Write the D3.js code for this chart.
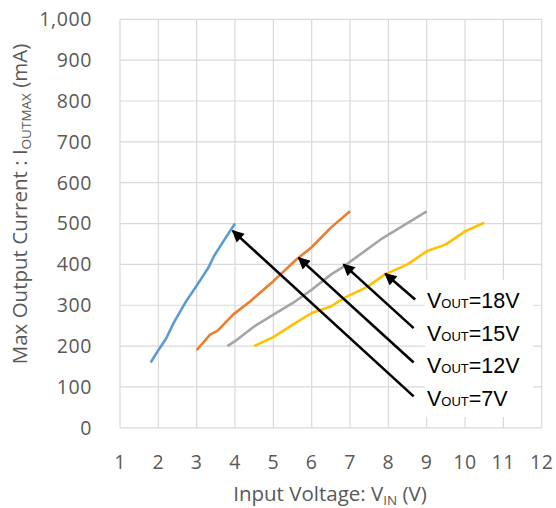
<!DOCTYPE html>
<html>
<head>
<meta charset="utf-8">
<script src="https://cdn.jsdelivr.net/npm/d3@7"></script>
<style>
  body { margin: 0; background: #fff; }
  .axis-text { font-family: "Open Sans", sans-serif; }
  .note { font-family: "Liberation Sans", Arial, sans-serif; }
</style>
</head>
<body>
<svg id="chart" width="556" height="508"></svg>
<script>
// series (x = input voltage V, y = mA)
const blueX = [1.8, 2.0, 2.2, 2.4, 2.7, 3.0, 3.3, 3.45, 3.7, 4.0];
const blueY = [160, 190, 218, 257, 306, 348, 391, 420, 457, 500];
const orangeX = [3.0, 3.35, 3.55, 3.95, 4.4, 5.0, 5.6, 6.0, 6.5, 7.0];
const orangeY = [190, 228, 238, 277, 310, 359, 412, 442, 490, 530];
const grayX = [3.8, 4.0, 4.5, 5.0, 5.5, 6.0, 6.5, 6.85, 7.8, 9.0];
const grayY = [200, 212, 248, 277, 305, 338, 375, 396, 461, 530];
const yellowX = [4.5, 5.0, 5.5, 6.0, 6.5, 6.85, 7.45, 7.9, 8.5, 9.0, 9.5, 10.0, 10.5];
const yellowY = [200, 222, 252, 281, 297, 318, 345, 375, 400, 432, 449, 481, 502];

const xTicks = d3.range(1, 13);
const yTicks = d3.range(0, 1001, 100);

// annotation labels and arrow ends (data coordinates)
const labels = ["18V", "15V", "12V", "7V"];
const arrowTail = [[8.7, 314], [8.66, 244], [8.66, 160], [8.66, 77]];
const arrowTip = [[7.92, 377], [6.83, 400], [5.66, 416], [3.94, 482]];

const svg = d3.select("#chart");
const plotL = 120, plotR = 541.7, plotT = 19.3, plotB = 427.8;

const x = d3.scaleLinear().domain([1, 12]).range([plotL, plotR]);
const y = d3.scaleLinear().domain([0, 1000]).range([plotB, plotT]);

// grid
svg.append("g").selectAll("line").data(yTicks).join("line")
  .attr("x1", plotL).attr("x2", plotR)
  .attr("y1", d => y(d)).attr("y2", d => y(d))
  .attr("stroke", "#d9d9d9").attr("stroke-width", 1.2);
svg.append("g").selectAll("line").data(xTicks).join("line")
  .attr("x1", d => x(d)).attr("x2", d => x(d))
  .attr("y1", plotT).attr("y2", plotB)
  .attr("stroke", "#d9d9d9").attr("stroke-width", 1.2);

// white box behind the labels
svg.append("rect")
  .attr("x", 425).attr("y", 280).attr("width", 108).attr("height", 137)
  .attr("fill", "#fff");

// tick labels
svg.append("g").selectAll("text").data(yTicks).join("text")
  .attr("class", "axis-text")
  .attr("x", 92).attr("y", d => y(d)).attr("dy", "0.35em")
  .attr("text-anchor", "end").attr("font-size", 19.5).attr("letter-spacing", 0.6)
  .attr("fill", "#595959")
  .text(d => d3.format(",")(d));
svg.append("g").selectAll("text").data(xTicks).join("text")
  .attr("class", "axis-text")
  .attr("x", d => x(d)).attr("y", 469)
  .attr("text-anchor", "middle").attr("font-size", 19.5).attr("letter-spacing", 0.6)
  .attr("fill", "#595959")
  .text(d => d);

// axis titles
const xt = svg.append("text").attr("class", "axis-text")
  .attr("x", 330).attr("y", 501)
  .attr("text-anchor", "middle").attr("font-size", 20.5).attr("fill", "#595959");
xt.append("tspan").text("Input Voltage: V");
xt.append("tspan").attr("font-size", 13.5).attr("dy", 4).text("IN");
xt.append("tspan").attr("dy", -4).text(" (V)");

const yt = svg.append("text").attr("class", "axis-text")
  .attr("transform", "translate(27,204) rotate(-90)")
  .attr("text-anchor", "middle").attr("font-size", 20.5).attr("fill", "#595959");
yt.append("tspan").text("Max Output Current : I");
yt.append("tspan").attr("font-size", 13.5).attr("dy", 4).text("OUTMAX");
yt.append("tspan").attr("dy", -4).text(" (mA)");

// series
const series = [
  { xs: blueX, ys: blueY, color: "#5b9bd5" },
  { xs: orangeX, ys: orangeY, color: "#ed7d31" },
  { xs: grayX, ys: grayY, color: "#a5a5a5" },
  { xs: yellowX, ys: yellowY, color: "#ffc000" }
];
const line = d3.line().x(d => x(d[0])).y(d => y(d[1]));
series.forEach(s => {
  svg.append("path")
    .datum(d3.zip(s.xs, s.ys))
    .attr("d", line)
    .attr("fill", "none")
    .attr("stroke", s.color)
    .attr("stroke-width", 2.6)
    .attr("stroke-linejoin", "round");
});

// arrows
svg.append("defs").append("marker")
  .attr("id", "head").attr("markerUnits", "userSpaceOnUse")
  .attr("viewBox", "0 0 10 10").attr("refX", 9).attr("refY", 5)
  .attr("markerWidth", 14).attr("markerHeight", 12).attr("orient", "auto")
  .append("path").attr("d", "M0,0 L10,5 L0,10 z").attr("fill", "#000");

svg.append("g").selectAll("line").data(d3.range(arrowTail.length)).join("line")
  .attr("x1", i => x(arrowTail[i][0])).attr("y1", i => y(arrowTail[i][1]))
  .attr("x2", i => x(arrowTip[i][0])).attr("y2", i => y(arrowTip[i][1]))
  .attr("stroke", "#000").attr("stroke-width", 2.6)
  .attr("marker-end", "url(#head)");

// labels
const lab = svg.append("g").selectAll("text").data(labels).join("text")
  .attr("class", "note")
  .attr("x", 427).attr("y", (d, i) => 308 + i * 32.7)
  .attr("font-size", 21.5).attr("fill", "#000");
lab.append("tspan").text("V");
lab.append("tspan").attr("font-size", 13).text("OUT");
lab.append("tspan").text(d => "=" + d);
</script>
</body>
</html>
